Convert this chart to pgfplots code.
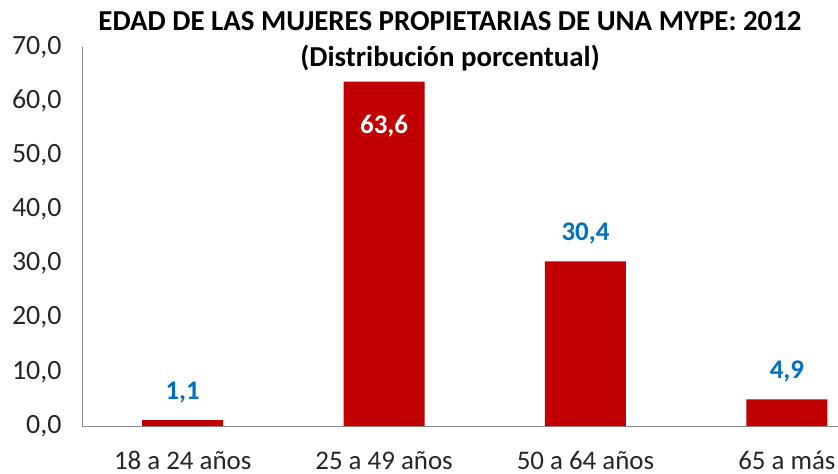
\documentclass[border=0pt]{standalone}
\usepackage{pgfplots}
\pgfplotsset{compat=1.18}
\usepackage{fontspec}
\setmainfont{Carlito}
\definecolor{barred}{HTML}{C00000}
\definecolor{lblblue}{HTML}{0070C0}
\begin{document}
\begin{tikzpicture}
\begin{axis}[
  at={(0,0)}, anchor=south west,
  scale only axis, width=756bp, height=379bp,
  xmin=-0.5, xmax=3.254, ymin=0, ymax=70,
  axis x line=bottom, axis y line=left,
  axis line style={-, draw=black!45, line width=0.8bp},
  ytick={0,10,...,70},
  xtick={0,1,2,3},
  xticklabels={18 a 24 años, 25 a 49 años, 50 a 64 años, 65 a más},
  major tick length=0pt,
  /pgf/number format/.cd, fixed, fixed zerofill, precision=1, use comma, assume math mode=true,
  /pgfplots/.cd,
  tick label style={font=\fontsize{27}{30}\selectfont, text=black!85},
  yticklabel style={font=\fontsize{28}{30}\selectfont, xshift=-17bp},
  xticklabel style={yshift=-22bp},
  clip=false,
]
\addplot[ybar, bar width=81bp, fill=barred, draw=none] coordinates {(0,1.1) (1,63.6) (2,30.4) (3,4.9)};
\addplot[only marks, mark=none, nodes near coords,
  nodes near coords style={anchor=base, inner sep=0pt, yshift=21bp, text=lblblue, font=\fontsize{27}{30}\selectfont\bfseries}]
  coordinates {(0,1.1) (2,30.4) (3,4.9)};
\addplot[only marks, mark=none, nodes near coords,
  nodes near coords style={anchor=base, inner sep=0pt, yshift=-52bp, text=white, font=\fontsize{27}{30}\selectfont\bfseries}]
  coordinates {(1,63.6)};
\end{axis}
\node[anchor=north, align=center, font=\fontsize{29}{36}\selectfont\bfseries, inner sep=0pt]
  at ([xshift=-10bp, yshift=36bp]current axis.north) {EDAD DE LAS MUJERES PROPIETARIAS DE UNA MYPE: 2012\\(Distribución porcentual)};
\pgfresetboundingbox
\useasboundingbox ([xshift=-82bp,yshift=-48bp]current axis.south west) rectangle ([yshift=47bp]current axis.north east);
\end{tikzpicture}
\end{document}
